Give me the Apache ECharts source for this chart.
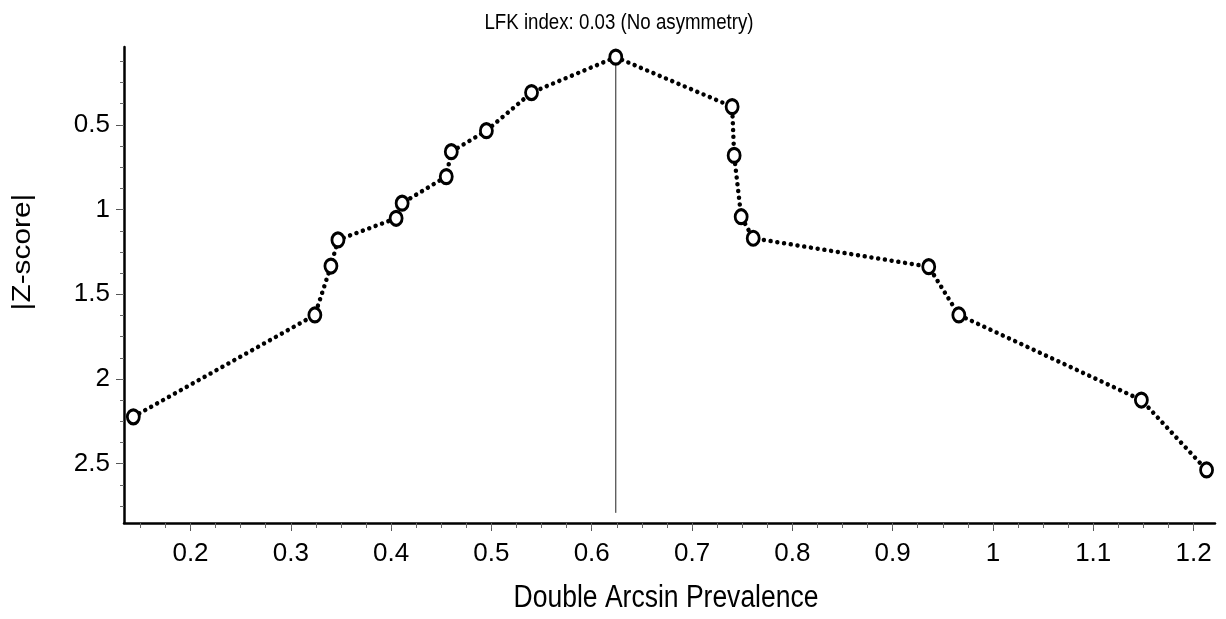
<!DOCTYPE html>
<html><head><meta charset="utf-8">
<script src="https://cdn.jsdelivr.net/npm/echarts@6/dist/echarts.min.js"></script>
<style>html,body{margin:0;padding:0;background:#fff}#c{width:1226px;height:619px}</style>
</head><body><div id="c"></div>
<script>
// Data (Doi plot)
const prevalence = [0.143, 0.324, 0.340, 0.347, 0.405, 0.411, 0.455, 0.460, 0.495, 0.540, 0.624,
                    0.740, 0.742, 0.749, 0.761, 0.936, 0.966, 1.148, 1.213];
const zScore     = [2.223, 1.622, 1.333, 1.179, 1.051, 0.962, 0.805, 0.658, 0.534, 0.309, 0.100,
                    0.392, 0.680, 1.042, 1.169, 1.337, 1.622, 2.124, 2.537];
const xTickLabels = [0.2, 0.3, 0.4, 0.5, 0.6, 0.7, 0.8, 0.9, 1, 1.1, 1.2];
const yTickLabels = [0.5, 1, 1.5, 2, 2.5];
const titleText = 'LFK index: 0.03 (No asymmetry)';
const xName = 'Double Arcsin Prevalence';
const yName = '|Z-score|';
const refLineBottom = 2.79;

const xMinor = [];
for (let i = 6; i <= 48; i++) xMinor.push(+(i * 0.025).toFixed(3));
const yMinor = [];
for (let i = 1; i <= 22; i++) yMinor.push(+(i * 0.125).toFixed(3));

const points = prevalence.map((x, i) => [x, zScore[i]]);
let peak = 0;
zScore.forEach((z, i) => { if (z < zScore[peak]) peak = i; });

const FONT = "'Liberation Sans', Arial, sans-serif";
const chart = echarts.init(document.getElementById('c'), null, {renderer: 'canvas'});
const xRange = {min: 0.1337, max: 1.2214};
const yRange = {min: 0.04, max: 2.85};

chart.setOption({
  animation: false,
  backgroundColor: '#fff',
  grid: {left: 124, right: 11, top: 47, bottom: 96, containLabel: false},
  xAxis: [
    {type: 'value', min: xRange.min, max: xRange.max, position: 'bottom',
     axisLine: {show: true, onZero: false, lineStyle: {color: '#000', width: 2.5}},
     axisTick: {show: true, customValues: xTickLabels, length: 8, lineStyle: {color: '#555', width: 1}},
     axisLabel: {customValues: xTickLabels, color: '#000', fontFamily: FONT, fontSize: 26, margin: 18,
                 formatter: v => String(v)},
     splitLine: {show: false}},
    {type: 'value', min: xRange.min, max: xRange.max, position: 'bottom',
     axisLine: {show: false, onZero: false},
     axisTick: {show: true, customValues: xMinor, length: 5, lineStyle: {color: '#666', width: 1}},
     axisLabel: {show: false},
     splitLine: {show: false}}
  ],
  yAxis: [
    {type: 'value', inverse: true, min: yRange.min, max: yRange.max, position: 'left',
     axisLine: {show: true, onZero: false, lineStyle: {color: '#000', width: 2.5}},
     axisTick: {show: true, customValues: yTickLabels, length: 8, lineStyle: {color: '#555', width: 1}},
     axisLabel: {customValues: yTickLabels, color: '#000', fontFamily: FONT, fontSize: 26, margin: 14,
                 formatter: v => String(v)},
     splitLine: {show: false}},
    {type: 'value', inverse: true, min: yRange.min, max: yRange.max, position: 'left',
     axisLine: {show: false, onZero: false},
     axisTick: {show: true, customValues: yMinor, length: 4, lineStyle: {color: '#666', width: 1}},
     axisLabel: {show: false},
     splitLine: {show: false}}
  ],
  graphic: [
    {type: 'text', x: 619, y: 23, scaleX: 0.85,
     style: {text: titleText, font: `22px ${FONT}`, fill: '#000', align: 'center', verticalAlign: 'middle'}},
    {type: 'text', x: 666, y: 598, scaleX: 0.855,
     style: {text: xName, font: `31px ${FONT}`, fill: '#000', align: 'center', verticalAlign: 'middle'}},
    {type: 'text', x: 23, y: 252, rotation: Math.PI / 2, scaleX: 1.03, scaleY: 0.92,
     style: {text: yName, font: `29px ${FONT}`, fill: '#000', align: 'center', verticalAlign: 'middle'}}
  ],
  series: [
    {type: 'line', xAxisIndex: 0, yAxisIndex: 0, z: 1, silent: true, symbol: 'none',
     data: [[prevalence[peak], zScore[peak]], [prevalence[peak], refLineBottom]],
     lineStyle: {color: '#222', width: 1, type: 'solid'}},
    {type: 'line', xAxisIndex: 0, yAxisIndex: 0, z: 2, data: points,
     symbol: 'circle', symbolSize: [12, 14],
     itemStyle: {color: '#fff', borderColor: '#000', borderWidth: 3},
     lineStyle: {color: '#000', width: 4.5, type: [0.01, 6.8], cap: 'round'}}
  ]
});
</script></body></html>
